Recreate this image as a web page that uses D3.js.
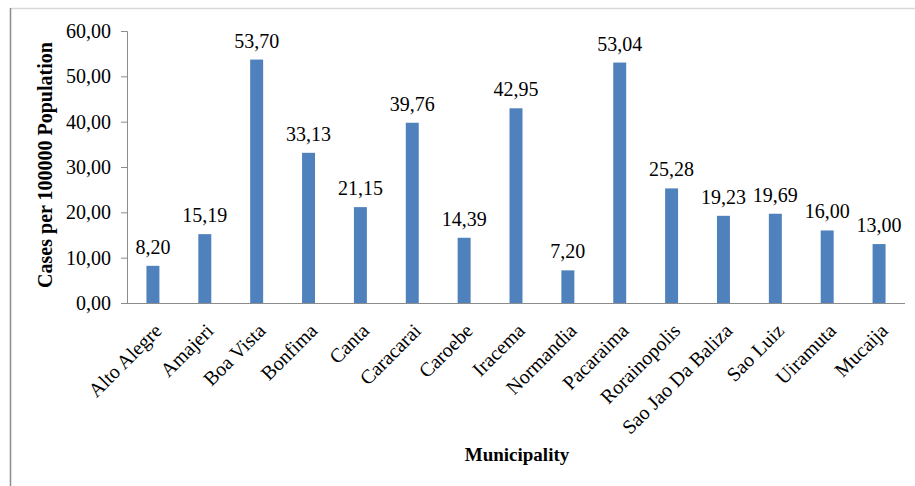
<!DOCTYPE html>
<html><head><meta charset="utf-8">
<script src="https://cdn.jsdelivr.net/npm/d3@7"></script>
<style>body{margin:0;background:#fff}svg{display:block}</style>
</head><body>
<script>
const categories = ["Alto Alegre","Amajeri","Boa Vista","Bonfima","Canta","Caracarai","Caroebe","Iracema","Normandia","Pacaraima","Rorainopolis","Sao Jao Da Baliza","Sao Luiz","Uiramuta","Mucaija"];
const values = [8.20,15.19,53.70,33.13,21.15,39.76,14.39,42.95,7.20,53.04,25.28,19.23,19.69,16.00,13.00];
const yTicks = [0,10,20,30,40,50,60];

const W = 915, H = 486;
const svg = d3.select("body").append("svg").attr("width", W).attr("height", H);
const font = "Liberation Serif, Times New Roman, serif";
const fmt = v => v.toFixed(2).replace(".", ",");

// frame
svg.append("line").attr("x1",10).attr("x2",W).attr("y1",8.5).attr("y2",8.5).attr("stroke","#d9d9d9").attr("stroke-width",1.5);
svg.append("line").attr("x1",10.5).attr("x2",10.5).attr("y1",8).attr("y2",H).attr("stroke","#8c8c8c").attr("stroke-width",1.5);

const x0 = 127, x1 = 905, yTop = 31, yBase = 303;
const x = d3.scaleBand().domain(categories).range([x0, x1]).paddingInner(0.75).paddingOuter(0.375);
const y = d3.scaleLinear().domain([0, 60]).range([yBase, yTop]);

// y axis
const yAxis = d3.axisLeft(y).tickValues(yTicks).tickFormat(fmt).tickSize(6).tickPadding(10);
const gy = svg.append("g").attr("transform", `translate(${x0},0)`).call(yAxis);
gy.attr("font-family", font);
gy.select(".domain").attr("stroke","#8c8c8c");
gy.selectAll(".tick line").attr("stroke","#8c8c8c");
gy.selectAll("text").style("font-family",font).attr("font-size",20).attr("fill","#000");

// bars
svg.append("g").selectAll("rect").data(values).join("rect")
  .attr("x",(d,i)=>x(categories[i])).attr("width",x.bandwidth())
  .attr("y",d=>y(d)).attr("height",d=>yBase-y(d)).attr("fill","#4f81bd");

// value labels
svg.append("g").selectAll("text").data(values).join("text")
  .attr("x",(d,i)=>x(categories[i])+x.bandwidth()/2).attr("y",d=>y(d)-12)
  .attr("text-anchor","middle").style("font-family",font).attr("font-size",20).attr("fill","#000")
  .text(fmt);

// x axis
const xAxis = d3.axisBottom(x).tickSize(0).tickPadding(0);
const gx = svg.append("g").attr("transform",`translate(0,${yBase})`).call(xAxis);
gx.attr("font-family", font);
gx.select(".domain").attr("stroke","#8c8c8c").attr("d",`M${x0},0.5H${x1}`);
gx.selectAll(".tick text").style("font-family",font).attr("font-size",20).attr("fill","#000")
  .attr("text-anchor","end").attr("x",0).attr("y",0).attr("dy",0)
  .attr("transform","translate(10,29) rotate(-45)");

// axis titles
svg.append("text").attr("transform","translate(52,165) rotate(-90)").attr("text-anchor","middle")
  .style("font-family",font).attr("font-size",20).attr("font-weight","bold").text("Cases per 100000 Population");
svg.append("text").attr("x",517).attr("y",461).attr("text-anchor","middle")
  .style("font-family",font).attr("font-size",19).attr("font-weight","bold").text("Municipality");
</script>
</body></html>
